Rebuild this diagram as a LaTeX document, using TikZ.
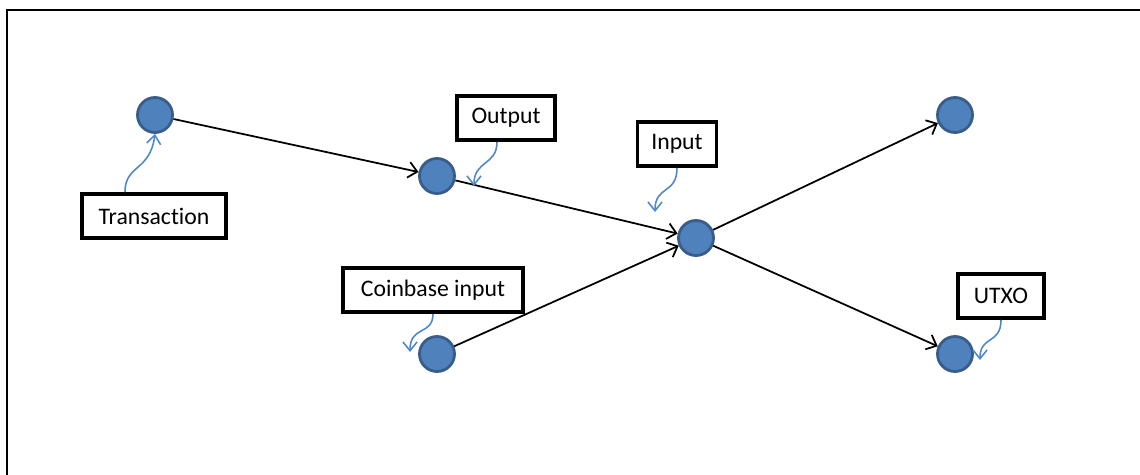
\documentclass[tikz,border=0pt]{standalone}
\usepackage{fontspec}
\setmainfont{Carlito}[Ligatures={NoCommon}]
\usetikzlibrary{arrows.meta,calc}
\definecolor{dotfill}{RGB}{79,129,189}
\definecolor{dotedge}{RGB}{56,93,138}
\definecolor{notecol}{RGB}{79,135,205}

\begin{document}
\begin{tikzpicture}[x=0.02cm,y=-0.02cm,
  dot/.style={circle,fill=dotfill,draw=dotedge,line width=1.6pt,minimum size=0.7cm,inner sep=0pt},
  tag/.style={draw=black,line width=2.1pt,fill=white,minimum height=0.88cm,inner sep=0pt,font=\fontsize{13.5}{16}\selectfont},
  flow/.style={black,line width=1pt,-{Straight Barb[length=5pt,width=9pt]}},
  note/.style={notecol,line width=0.9pt,-{Straight Barb[length=5pt,width=8pt]}}]
\useasboundingbox (0,0) rectangle (1140,475);
% frame
\draw [line width=1.3pt] (7,475) -- (7,10) -- (1140,10);
% dots
\node [dot] (tx) at (155,115) {};
\node [dot] (out) at (437,176) {};
\node [dot] (cb) at (437,354) {};
\node [dot] (in) at (696,238) {};
\node [dot] (top) at (955,115) {};
\node [dot] (utxo) at (955,354) {};
% labels
\node [tag,minimum width=2.88cm] (ltx) at (154,216) {Transaction};
\node [tag,minimum width=1.96cm] (lout) at (506,118) {Output};
\node [tag,minimum width=1.58cm] (lin) at (677,144) {Input};
\node [tag,minimum width=3.6cm] (lcb) at (433,290) {Coinbase input};
\node [tag,minimum width=1.72cm] (lutxo) at (1001,296) {UTXO};
% edges
\draw [flow] (tx) -- (out);
\draw [flow] (out) -- (in);
\draw [flow] (cb) -- (in);
\draw [flow] (in) -- (top);
\draw [flow] (in) -- (utxo);
% pointers
\draw [note] ($(ltx.north)+(-29,0)$) .. controls ($(ltx.north)+(-29,-28)$) and ($(tx.south)+(-5,38)$) .. (tx.south);
\draw [note] ($(lout.south)+(-9,0)$) .. controls ($(lout.south)+(-9,24)$) and ($(out)+(37,-16)$) .. ($(out)+(37,10)$);
\draw [note] ($(lin.south)+(0,0)$) .. controls ($(lin.south)+(0,27)$) and ($(in)+(-41,-53)$) .. ($(in)+(-41,-26)$);
\draw [note] ($(lcb.south)+(0,0)$) .. controls ($(lcb.south)+(0,22)$) and ($(cb)+(-27,-29)$) .. ($(cb)+(-27,-2)$);
\draw [note] ($(lutxo.south)+(0,0)$) .. controls ($(lutxo.south)+(0,25)$) and ($(utxo)+(25,-19)$) .. ($(utxo)+(25,6)$);
\end{tikzpicture}
\end{document}
